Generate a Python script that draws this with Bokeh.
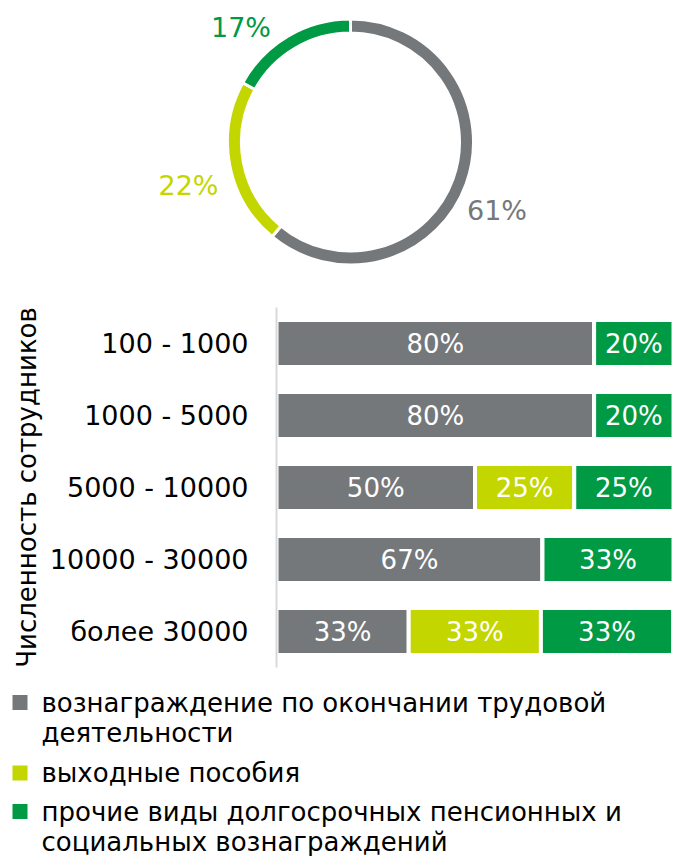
import numpy as np
from bokeh.plotting import figure
from bokeh.layouts import column, row
from bokeh.models import Range1d, FactorRange, ColumnDataSource
from bokeh.embed import file_html
from bokeh.resources import INLINE
from bokeh.core.properties import value

# ---------------- data ----------------
series_names = [
    "вознаграждение по окончании трудовой деятельности",
    "выходные пособия",
    "прочие виды долгосрочных пенсионных и социальных вознаграждений",
]
donut_values = [61, 22, 17]

categories = ["100 - 1000", "1000 - 5000", "5000 - 10000", "10000 - 30000", "более 30000"]
post_employment = [80, 80, 50, 67, 33.3]
severance = [0, 0, 25, 0, 33.3]
other_long_term = [20, 20, 25, 33, 33.3]

legend_labels = [
    "вознаграждение по окончании трудовой\nдеятельности",
    "выходные пособия",
    "прочие виды долгосрочных пенсионных и\nсоциальных вознаграждений",
]
axis_title = "Численность сотрудников"

# ---------------- style ----------------
colors = ["#75787B", "#C4D600", "#009A44"]
FONT = value("DejaVu Sans")
W = 673

# ---------------- donut ----------------
H1 = 276
p1 = figure(width=W, height=H1, x_range=Range1d(0, W), y_range=Range1d(0, H1),
            output_backend="svg", toolbar_location=None, min_border=0,
            x_axis_location=None, y_axis_location=None)
p1.grid.visible = False
p1.outline_line_color = None

cx, cy = 350, 134.5
vals = np.array(donut_values, dtype=float)
frac = vals / vals.sum()
ends = np.pi / 2 - 2 * np.pi * np.cumsum(frac)
starts = np.concatenate([[np.pi / 2], ends[:-1]])
src1 = ColumnDataSource(dict(start=starts, end=ends, color=colors,
                             label=[f"{v}%" for v in donut_values]))
p1.annular_wedge(x=cx, y=cy, inner_radius=109, outer_radius=123,
                 inner_radius_units="screen", outer_radius_units="screen",
                 start_angle="start", end_angle="end", direction="clock",
                 fill_color="color", line_color="white", line_width=3, source=src1)

label_offsets = [(146.5, -68.5), (-162, -43.5), (-109.5, 114.5)]
src1.data["lx"] = [cx + dx for dx, dy in label_offsets]
src1.data["ly"] = [cy + dy for dx, dy in label_offsets]
p1.text(x="lx", y="ly", text="label", text_color="color", source=src1,
        text_font=FONT, text_font_size="27px", text_align="center",
        text_baseline="middle")

# ---------------- stacked bars ----------------
H2 = 404
p2 = figure(width=W, height=H2, y_range=FactorRange(*categories[::-1]),
            x_range=Range1d(0, 100), output_backend="svg", toolbar_location=None,
            min_border_left=276, min_border_right=0, min_border_top=31,
            min_border_bottom=13, x_axis_location=None)
p2.grid.visible = False
p2.outline_line_color = None

series = [post_employment, severance, other_long_term]
left = np.zeros(len(categories))
for vals_s, col in zip(series, colors):
    v = np.array(vals_s, dtype=float)
    right = left + v
    p2.hbar(y=categories, left=left, right=right, height=0.65,
            fill_color=col, line_color="white", line_width=4)
    mask = v > 0
    p2.text(x=list(((left + right) / 2)[mask]),
            y=[c for c, m in zip(categories, mask) if m],
            text=[f"{round(x)}%" for x in v[mask]],
            text_color="white", text_font=FONT, text_font_size="26px",
            text_align="center", text_baseline="middle")
    left = right

ax = p2.yaxis[0]
ax.axis_line_color = "#D9D9D9"
ax.axis_line_width = 2
ax.major_tick_line_color = None
ax.minor_tick_line_color = None
ax.major_label_text_font = "DejaVu Sans"
ax.major_label_text_font_size = "27px"
ax.major_label_text_color = "#000000"
ax.major_label_standoff = 22
ax.axis_label = axis_title
ax.axis_label_text_font = "DejaVu Sans"
ax.axis_label_text_font_size = "26px"
ax.axis_label_text_font_style = "normal"
ax.axis_label_text_color = "#000000"
ax.axis_label_standoff = 5

# ---------------- legend ----------------
H3 = 176
p3 = figure(width=W, height=H3, x_range=Range1d(0, W), y_range=Range1d(H3, 0),
            output_backend="svg", toolbar_location=None, min_border=0,
            x_axis_location=None, y_axis_location=None)
p3.grid.visible = False
p3.outline_line_color = None

item_centers = [22, 92.5, 131]
p3.scatter(x=19.5, y=item_centers, marker="square", size=15,
           fill_color=colors, line_color=None)
p3.text(x=41, y=[c - 15 for c in item_centers], text=legend_labels,
        text_color="#000000", text_font=FONT, text_font_size="26px",
        text_align="left", text_baseline="top", text_line_height=1.03)

layout = column(row(p1), row(p2), row(p3), spacing=0)
open("out.html", "w").write(file_html(layout, INLINE))
